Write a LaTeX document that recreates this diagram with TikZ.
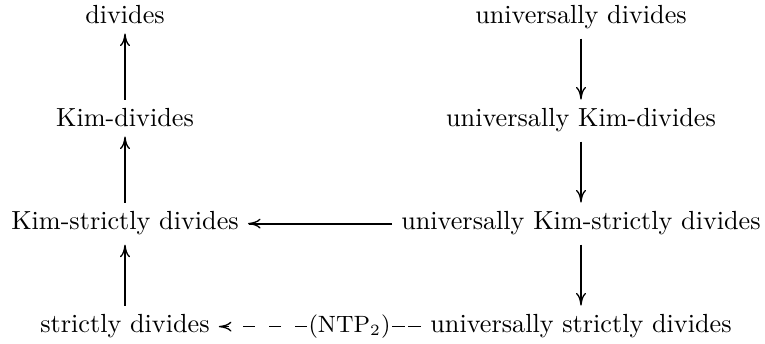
\documentclass[tikz,border=0pt]{standalone}
\usetikzlibrary{arrows.meta}
\begin{document}
\begin{tikzpicture}[x=0.3817pt,y=-0.3817pt,
  every node/.style={inner sep=3.33pt},
  txt/.style={anchor=base},
  tipstyle/.style={-{Computer Modern Rightarrow[length=4.8pt,width=3.8pt,line width=0.5pt]}},
  arr/.style={tipstyle, line width=0.7pt},
  dsh/.style={line width=0.45pt}]
\useasboundingbox (0,0) rectangle (765,344);
% left column
\node[txt] (d)   at (125,24)  {divides};
\node[txt] (kd)  at (125,127) {Kim-divides};
\node[txt] (ksd) at (125,230) {Kim-strictly divides};
\node[txt] (sd)  at (125,333) {strictly divides};
% right column
\node[txt] (ud)   at (581,24)  {universally divides};
\node[txt] (ukd)  at (581,127) {universally Kim-divides};
\node[txt] (uksd) at (581,230) {universally Kim-strictly divides};
\node[txt] (usd)  at (581,333) {universally strictly divides};
% arrows
\draw[arr] (kd) -- (d);
\draw[arr] (ksd) -- (kd);
\draw[arr] (sd) -- (ksd);
\draw[arr] (ud) -- (ukd);
\draw[arr] (ukd) -- (uksd);
\draw[arr] (uksd) -- (usd);
\draw[arr] (uksd) -- (ksd);
% dashed arrow with label
\node[inner sep=0.3pt] (lbl) at (349.5,0 |- sd.center) {\fontsize{9}{10}\selectfont(NTP$_2$)};
\draw[dsh, dash pattern=on 5pt off 1.2pt] (usd) -- (lbl);
\draw[dsh, tipstyle, dash pattern=on 4.5pt off 5.5pt] (lbl) -- (sd);
\end{tikzpicture}
\end{document}
